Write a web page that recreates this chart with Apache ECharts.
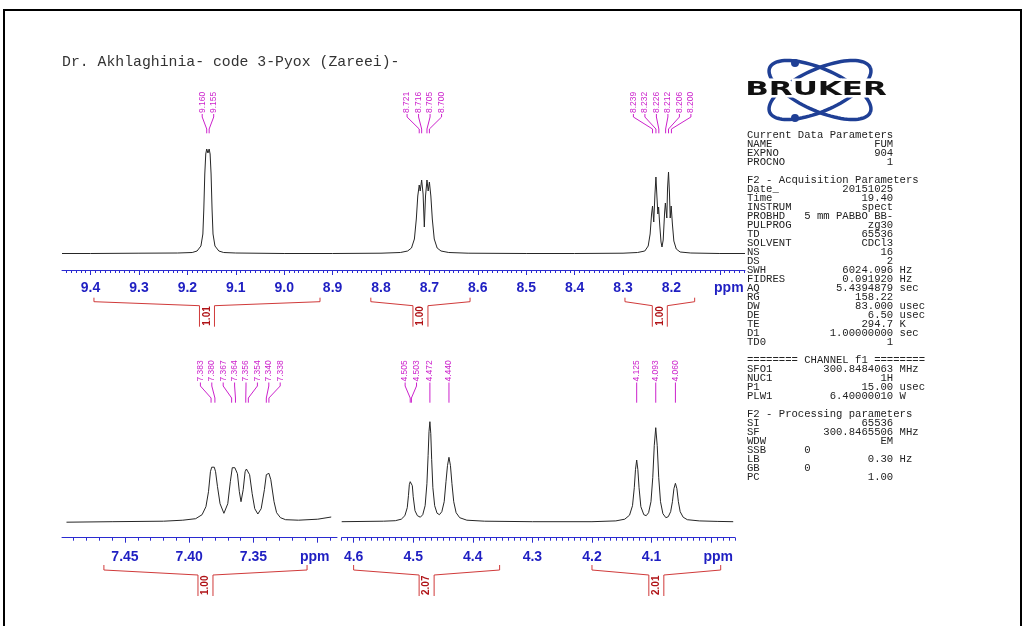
<!DOCTYPE html>
<html><head><meta charset="utf-8">
<script src="https://cdn.jsdelivr.net/npm/echarts@6/dist/echarts.min.js"></script>
<style>html,body{margin:0;padding:0;background:#fff;}#c{width:1027px;height:626px;}</style>
</head><body><div id="c"></div><script>
// ---------------- DATA ----------------
const titleText = 'Dr. Akhlaghinia- code 3-Pyox (Zareei)-';

// spectrum traces [ppm, intensity]
const topSpectrum = [[9.459,0.5],[9.40,0.5],[9.30,0.8],[9.22,1],[9.19,1.5],[9.18,3],[9.172,8],[9.168,20],[9.166,45],[9.164,80],[9.162,100],[9.160,105],[9.1575,101],[9.155,105],[9.153,100],[9.151,80],[9.149,45],[9.147,20],[9.143,8],[9.135,3],[9.125,1.5],[9.10,1],[9.00,0.5],[8.90,0.5],[8.80,0.8],[8.76,1.5],[8.745,3],[8.737,6],[8.731,15],[8.727,35],[8.724,58],[8.721,69],[8.719,63],[8.716,74],[8.713,60],[8.7105,27],[8.708,58],[8.705,74],[8.7025,63],[8.700,72],[8.697,58],[8.694,35],[8.690,15],[8.684,6],[8.676,3],[8.66,1.5],[8.62,0.8],[8.50,0.5],[8.40,0.5],[8.30,0.8],[8.27,1.5],[8.255,3],[8.248,8],[8.244,20],[8.241,40],[8.239,48],[8.2365,32],[8.234,60],[8.232,77],[8.230,58],[8.228,40],[8.2265,47],[8.224,28],[8.2215,12],[8.2195,7],[8.217,14],[8.214,42],[8.2125,51],[8.2095,36],[8.208,66],[8.206,82],[8.204,60],[8.2025,36],[8.2005,48],[8.198,30],[8.195,13],[8.190,5],[8.182,2],[8.16,1],[8.10,0.5],[8.048,0.5]];

const aromaticSpectrum = [[7.4955,-0.5],[7.46,0],[7.42,0.5],[7.405,1.5],[7.395,3],[7.390,7],[7.387,15],[7.385,30],[7.3835,50],[7.3825,54.5],[7.3815,53],[7.3805,54.5],[7.3795,50],[7.378,35],[7.376,18],[7.373,8.4],[7.370,18],[7.368,40],[7.3665,54],[7.3655,55],[7.3645,54],[7.3635,55],[7.3625,48],[7.361,30],[7.3597,20],[7.358,32],[7.3565,50],[7.3555,52.7],[7.3548,51.5],[7.354,52.7],[7.353,47],[7.351,28],[7.349,13],[7.3466,7.7],[7.344,13],[7.3415,32],[7.340,47],[7.339,48.4],[7.3385,47.5],[7.338,48.4],[7.3365,42],[7.334,20],[7.332,9],[7.329,4],[7.325,2],[7.315,1.5],[7.30,2.5],[7.2895,4.7]];

const aliphaticSpectrum = [[4.62,0],[4.55,0.5],[4.53,1],[4.52,2.5],[4.514,6],[4.510,14],[4.508,26],[4.5065,37],[4.505,40],[4.504,38.5],[4.503,40],[4.5015,36],[4.500,25],[4.497,11],[4.493,6],[4.488,4.5],[4.484,7],[4.480,16],[4.477,38],[4.475,66],[4.4735,90],[4.472,100],[4.4705,88],[4.469,62],[4.467,34],[4.464,16],[4.460,8.5],[4.456,7],[4.452,10],[4.448,20],[4.445,40],[4.4425,56],[4.440,64.4],[4.4375,56],[4.435,38],[4.432,20],[4.428,9],[4.422,4],[4.41,1.5],[4.38,0.5],[4.30,0],[4.20,0],[4.16,0.8],[4.145,2.5],[4.137,6.5],[4.132,16],[4.129,34],[4.127,52],[4.125,61.7],[4.123,52],[4.121,34],[4.118,15],[4.113,7],[4.109,6],[4.105,9],[4.101,20],[4.098,44],[4.0955,76],[4.093,94],[4.0905,76],[4.088,44],[4.085,20],[4.081,8],[4.076,4],[4.072,5],[4.068,10],[4.065,20],[4.0625,33],[4.060,38.4],[4.0575,33],[4.055,20],[4.052,10],[4.047,4.5],[4.04,2],[4.02,0.8],[3.99,0.3],[3.963,0]];

// peak pick labels
const topPeaks = [9.160, 9.155, 8.721, 8.716, 8.705, 8.700, 8.239, 8.232, 8.226, 8.212, 8.206, 8.200];
const aromaticPeaks = [7.383, 7.380, 7.367, 7.364, 7.356, 7.354, 7.340, 7.338];
const aliphaticPeaks = [4.505, 4.503, 4.472, 4.440, 4.125, 4.093, 4.060];

// integrals [from, to] and values
const topIntegralRanges = [[9.393, 8.926], [8.821, 8.616], [8.296, 8.152]];
const topIntegralValues = [1.01, 1.00, 1.00];
const aromaticIntegralRanges = [[7.4664, 7.3083]];
const aromaticIntegralValues = [1.00];
const aliphaticIntegralRanges = [[4.600, 4.355], [4.200, 3.984]];
const aliphaticIntegralValues = [2.07, 2.01];

// axis tick labels
const topTicks = [9.4, 9.3, 9.2, 9.1, 9.0, 8.9, 8.8, 8.7, 8.6, 8.5, 8.4, 8.3, 8.2, 8.1];
const aromaticTicks = [7.45, 7.40, 7.35, 7.30];
const aliphaticTicks = [4.6, 4.5, 4.4, 4.3, 4.2, 4.1, 4.0];

// parameter panel
const currentParams = [['NAME','FUM'],['EXPNO','904'],['PROCNO','1']];
const acqParams = [['Date_','20151025'],['Time','19.40'],['INSTRUM','spect'],['PROBHD','5 mm PABBO BB-'],['PULPROG','zg30'],['TD','65536'],['SOLVENT','CDCl3'],['NS','16'],['DS','2'],['SWH','6024.096','Hz'],['FIDRES','0.091920','Hz'],['AQ','5.4394879','sec'],['RG','158.22'],['DW','83.000','usec'],['DE','6.50','usec'],['TE','294.7','K'],['D1','1.00000000','sec'],['TD0','1']];
const channelParams = [['SFO1','300.8484063','MHz'],['NUC1','1H'],['P1','15.00','usec'],['PLW1','6.40000010','W']];
const procParams = [['SI','65536'],['SF','300.8465506','MHz'],['WDW','EM'],['SSB','0','','left'],['LB','0.30','Hz'],['GB','0','','left'],['PC','1.00']];

// ---------------- STYLE / LAYOUT ----------------
const BLUE = '#2b2bd0', BLUE_T = '#1f1fc2', MAG = '#cc22cc', RED = '#d03a3a', RED_T = '#b01418', LINE = '#262626';
const peakLayTop = { textBottom: 113, lineTop: 114, elbow1: 117, elbow2: 129, lineEnd: 133.3, spacing: 11.5 };
const peakLayBot = { textBottom: 381.5, lineTop: 382.5, elbow1: 386, elbow2: 398, lineEnd: 402.7, spacing: 11.4 };
const intLayTop = { top: 297.7, end: 301.7, join: 305.7, bottom: 326.7 };
const intLayBot = { top: 565, end: 570, join: 575, bottom: 596 };

function fmtLine(p) {
  const label = p[0], val = p[1], unit = p[2] || '', mode = p[3];
  let s;
  if (mode === 'left') s = label.padEnd(9) + val;
  else { s = label; const pad = 23 - label.length - val.length; s += ' '.repeat(Math.max(1, pad)) + val; }
  if (unit) s += ' ' + unit;
  return s;
}
const paramLines = ['Current Data Parameters'].concat(currentParams.map(fmtLine), [''], ['F2 - Acquisition Parameters'], acqParams.map(fmtLine), [''], ['======== CHANNEL f1 ========'], channelParams.map(fmtLine), [''], ['F2 - Processing parameters'], procParams.map(fmtLine));

function spreadLabels(xs, s) {
  const order = xs.map((x, i) => i).sort((a, b) => xs[a] - xs[b]);
  let clusters = order.map(i => ({ idx: [i], sum: xs[i] }));
  let changed = true;
  while (changed) {
    changed = false;
    for (let k = 0; k < clusters.length - 1; k++) {
      const A = clusters[k], B = clusters[k + 1];
      const aEnd = A.sum / A.idx.length + (A.idx.length - 1) / 2 * s;
      const bStart = B.sum / B.idx.length - (B.idx.length - 1) / 2 * s;
      if (bStart - aEnd < s) { clusters.splice(k, 2, { idx: A.idx.concat(B.idx), sum: A.sum + B.sum }); changed = true; break; }
    }
  }
  const out = [];
  clusters.forEach(c => { const n = c.idx.length, m = c.sum / n; c.idx.forEach((i, j) => { out[i] = m + (j - (n - 1) / 2) * s; }); });
  return out;
}

function peakSeries(xi, yi, peaks, lay) {
  return {
    type: 'custom', xAxisIndex: xi, yAxisIndex: yi, clip: false, silent: true, z: 5,
    data: peaks.map(p => [p, 0]),
    renderItem: function (params, api) {
      const xs = peaks.map(p => api.coord([p, 0])[0]);
      const lx = spreadLabels(xs, lay.spacing);
      const i = params.dataIndex, px = xs[i], tx = lx[i];
      return { type: 'group', children: [
        { type: 'polyline', shape: { points: [[tx, lay.lineTop], [tx, lay.elbow1], [px, lay.elbow2], [px, lay.lineEnd]] }, style: { stroke: MAG, lineWidth: 1, fill: null } },
        { type: 'text', x: tx, y: lay.textBottom, rotation: Math.PI / 2, style: { text: peaks[i].toFixed(3), fill: MAG, font: '8.5px "Liberation Sans"', align: 'left', verticalAlign: 'middle' } }
      ] };
    }
  };
}

function integralSeries(xi, yi, ranges, values, lay) {
  return {
    type: 'custom', xAxisIndex: xi, yAxisIndex: yi, clip: false, silent: true, z: 5,
    data: ranges.map((r, i) => [r[0], r[1], values[i]]),
    encode: { x: [0, 1] },
    renderItem: function (params, api) {
      const x1 = api.coord([api.value(0), 0])[0], x2 = api.coord([api.value(1), 0])[0];
      const l = Math.min(x1, x2), r = Math.max(x1, x2), c = (l + r) / 2, hw = 7.5;
      return { type: 'group', children: [
        { type: 'polyline', shape: { points: [[l, lay.top], [l, lay.end], [c - hw, lay.join], [c - hw, lay.bottom]] }, style: { stroke: RED, lineWidth: 1, fill: null } },
        { type: 'polyline', shape: { points: [[r, lay.top], [r, lay.end], [c + hw, lay.join], [c + hw, lay.bottom]] }, style: { stroke: RED, lineWidth: 1, fill: null } },
        { type: 'text', x: c, y: lay.bottom - 1, rotation: Math.PI / 2, style: { text: api.value(2).toFixed(2), fill: RED_T, font: 'bold 10px "Liberation Sans"', align: 'left', verticalAlign: 'middle' } }
      ] };
    }
  };
}

function minorValues(min, max) { const v = []; for (let k = Math.ceil(min * 100); k <= Math.floor(max * 100); k++) v.push(k / 100); return v; }

function mainAxis(gi, min, max, ticks, dec, ppmVal, ppmPad, margin) {
  return {
    type: 'value', gridIndex: gi, min: min, max: max, inverse: true, position: 'bottom',
    axisLine: { show: true, onZero: false, lineStyle: { color: BLUE, width: 1 } },
    axisTick: { show: true, length: 5, inside: false, customValues: ticks, lineStyle: { color: BLUE, width: 1 } },
    minorTick: { show: false }, splitLine: { show: false },
    axisLabel: {
      show: true, customValues: ticks, margin: margin, color: BLUE_T, fontFamily: 'Liberation Sans', fontWeight: 'bold', fontSize: 14,
      formatter: function (v) { return Math.abs(v - ppmVal) < 1e-9 ? '{p|ppm}' : v.toFixed(dec); },
      rich: { p: { color: BLUE_T, fontFamily: 'Liberation Sans', fontWeight: 'bold', fontSize: 14, padding: ppmPad } }
    }
  };
}
function minorAxis(gi, min, max) {
  return {
    type: 'value', gridIndex: gi, min: min, max: max, inverse: true, position: 'bottom',
    axisLine: { show: false, onZero: false }, splitLine: { show: false }, axisLabel: { show: false },
    axisTick: { show: true, length: 3, inside: false, customValues: minorValues(min, max), lineStyle: { color: BLUE, width: 1 } }
  };
}

function ellipsePts(cx, cy, a, b, th, n) {
  const pts = [];
  for (let k = 0; k <= n; k++) { const t = 2 * Math.PI * k / n; pts.push([cx + a * Math.cos(t) * Math.cos(th) - b * Math.sin(t) * Math.sin(th), cy + a * Math.cos(t) * Math.sin(th) + b * Math.sin(t) * Math.cos(th)]); }
  return pts;
}

const chart = echarts.init(document.getElementById('c'), null, { renderer: 'canvas' });
const TOP = [8.048, 9.459], AR = [7.285, 7.499], AL = [3.96, 4.62];
const NAVY = '#1f3f95';
chart.setOption({
  animation: false,
  backgroundColor: '#fff',
  grid: [
    { left: 62, top: 100, width: 683, height: 170 },
    { left: 62, top: 380, width: 275, height: 157.7 },
    { left: 341.7, top: 380, width: 393.3, height: 157.7 }
  ],
  xAxis: [
    mainAxis(0, TOP[0], TOP[1], topTicks, 1, 8.1, [0, 0, 0, 18], 11),
    minorAxis(0, TOP[0], TOP[1]),
    mainAxis(1, AR[0], AR[1], aromaticTicks, 2, 7.30, [0, 6, 0, 0], 12),
    minorAxis(1, AR[0], AR[1]),
    mainAxis(2, AL[0], AL[1], aliphaticTicks, 1, 4.0, [0, 0, 0, 14], 12),
    minorAxis(2, AL[0], AL[1])
  ],
  yAxis: [
    { type: 'value', gridIndex: 0, min: -16, max: 154, show: false },
    { type: 'value', gridIndex: 1, min: -16, max: 141.7, show: false },
    { type: 'value', gridIndex: 2, min: -16, max: 141.7, show: false }
  ],
  series: [
    { type: 'line', xAxisIndex: 0, yAxisIndex: 0, data: topSpectrum, symbol: 'none', lineStyle: { color: LINE, width: 1 }, silent: true },
    { type: 'line', xAxisIndex: 2, yAxisIndex: 1, data: aromaticSpectrum, symbol: 'none', lineStyle: { color: LINE, width: 1 }, silent: true },
    { type: 'line', xAxisIndex: 4, yAxisIndex: 2, data: aliphaticSpectrum, symbol: 'none', lineStyle: { color: LINE, width: 1 }, silent: true },
    peakSeries(0, 0, topPeaks, peakLayTop),
    peakSeries(2, 1, aromaticPeaks, peakLayBot),
    peakSeries(4, 2, aliphaticPeaks, peakLayBot),
    integralSeries(0, 0, topIntegralRanges, topIntegralValues, intLayTop),
    integralSeries(2, 1, aromaticIntegralRanges, aromaticIntegralValues, intLayBot),
    integralSeries(4, 2, aliphaticIntegralRanges, aliphaticIntegralValues, intLayBot)
  ],
  graphic: [
    { type: 'rect', shape: { x: 4, y: 10, width: 1017, height: 700 }, style: { fill: null, stroke: '#000', lineWidth: 2 }, silent: true },
    { type: 'text', x: 62, y: 62, style: { text: titleText, font: '14.8px "Liberation Mono"', fill: '#333', align: 'left', verticalAlign: 'middle' } },
    { type: 'text', x: 747, y: 130.5, style: { text: paramLines.join('\n'), font: '10.6px "Liberation Mono"', lineHeight: 9, fill: '#222', align: 'left', verticalAlign: 'top' } },
    { type: 'polyline', shape: { points: ellipsePts(820, 90, 55, 21, 0.42, 90) }, style: { stroke: NAVY, lineWidth: 3.5, fill: null } },
    { type: 'polyline', shape: { points: ellipsePts(820, 90, 55, 21, -0.42, 90) }, style: { stroke: NAVY, lineWidth: 3.5, fill: null } },
    { type: 'circle', shape: { cx: 795, cy: 63, r: 4 }, style: { fill: NAVY } },
    { type: 'circle', shape: { cx: 795, cy: 118, r: 4 }, style: { fill: NAVY } },
    { type: 'text', x: 816, y: 90, scaleX: 1.55, style: { text: 'BRUKER', font: 'bold 20px "DejaVu Sans"', fill: '#fff', stroke: '#fff', lineWidth: 5, align: 'center', verticalAlign: 'middle' } },
    { type: 'text', x: 816, y: 90, scaleX: 1.55, style: { text: 'BRUKER', font: 'bold 20px "DejaVu Sans"', fill: '#111', align: 'center', verticalAlign: 'middle' } }
  ]
});
</script></body></html>
